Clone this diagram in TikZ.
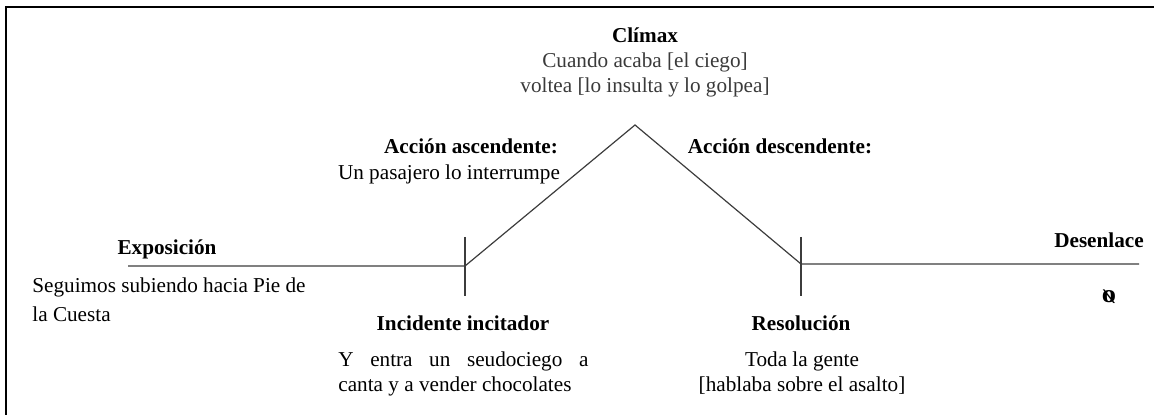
\documentclass[tikz,border=0pt]{standalone}
\usepackage{fontspec}
\setmainfont{Liberation Serif}
\usetikzlibrary{positioning, calc}
\definecolor{cLine}{HTML}{3C3C3C}
\definecolor{cText}{HTML}{000000}
\definecolor{cClimax}{HTML}{3A3A3A}
\definecolor{cFrame}{HTML}{000000}

\begin{document}
\begin{tikzpicture}[
    x=0.5pt, y=-0.5pt,
    font=\fontsize{10.6}{12.5}\selectfont\color{cText},
    % Text styles (multi-line nodes sit on the baseline of their last line)
    head_label/.style={font=\fontsize{10.6}{12.5}\selectfont\bfseries, anchor=base, inner sep=0pt},
    body_label/.style={anchor=base, inner sep=0pt, align=center},
    climax_label/.style={body_label, text=cClimax},
    % Line styles
    plot_line/.style={draw=cLine, line width=0.6pt},
    tick_mark/.style={draw=cLine, line width=0.6pt},
    frame_line/.style={draw=cFrame, line width=1pt}
]
\useasboundingbox (0,0) rectangle (1154,415);
\clip (0,0) rectangle (1154,415);

% --- FRAME (cut at right and bottom) ---
\draw[frame_line] (6,7) rectangle (1180,440);

% --- PLOT POINTS ---
\coordinate (start) at (128,266);
\coordinate (incident) at (465,266);
\coordinate (peak) at (635,125);
\coordinate (resolution) at (801,264);
\coordinate (finish) at (1139,264);

\draw[plot_line] (start) -- (incident) -- (peak) -- (resolution) -- (finish);

% Ticks
\foreach \p in {incident, resolution} {
    \draw[tick_mark] (\p |- 0,237) -- (\p |- 0,296);
}

% --- CLIMAX ---
\node[head_label] (climax) at (645,43) {Clímax};
\node[climax_label] (climax_text) at (645,93) {Cuando acaba [el ciego]\\voltea [lo insulta y lo golpea]};

% --- RISING / FALLING ACTION ---
\node[head_label] (rising) at (471,154) {Acción ascendente:};
\node[body_label] (rising_text) at (449,180) {Un pasajero lo interrumpe};
\node[head_label] (falling) at (780,154) {Acción descendente:};

% --- EXPOSITION ---
\node[head_label] (exposition) at (167,255) {Exposición};
\node[body_label, anchor=base west, align=left] (exposition_text) at (32,322) {Seguimos subiendo hacia Pie de\\[2pt]la Cuesta};

% --- INCITING INCIDENT ---
\node[head_label] (inciting) at (463,331) {Incidente incitador};
\node[body_label, anchor=base west, align=left] (inciting_text) at (338,392) {\makebox[125pt][s]{Y entra un seudociego a}\\canta y a vender chocolates};

% --- RESOLUTION ---
\node[head_label] (resolved) at (801,331) {Resolución};
\node[body_label] (resolved_text) at (802,392) {Toda la gente\\{}[hablaba sobre el asalto]};

% --- DENOUEMENT ---
\node[head_label] (denouement) at (1099,248) {Desenlace};
\node[head_label] (denouement_text) at (1109,303) {\scalebox{-1.35}[1.2]{ø}};

\end{tikzpicture}
\end{document}
